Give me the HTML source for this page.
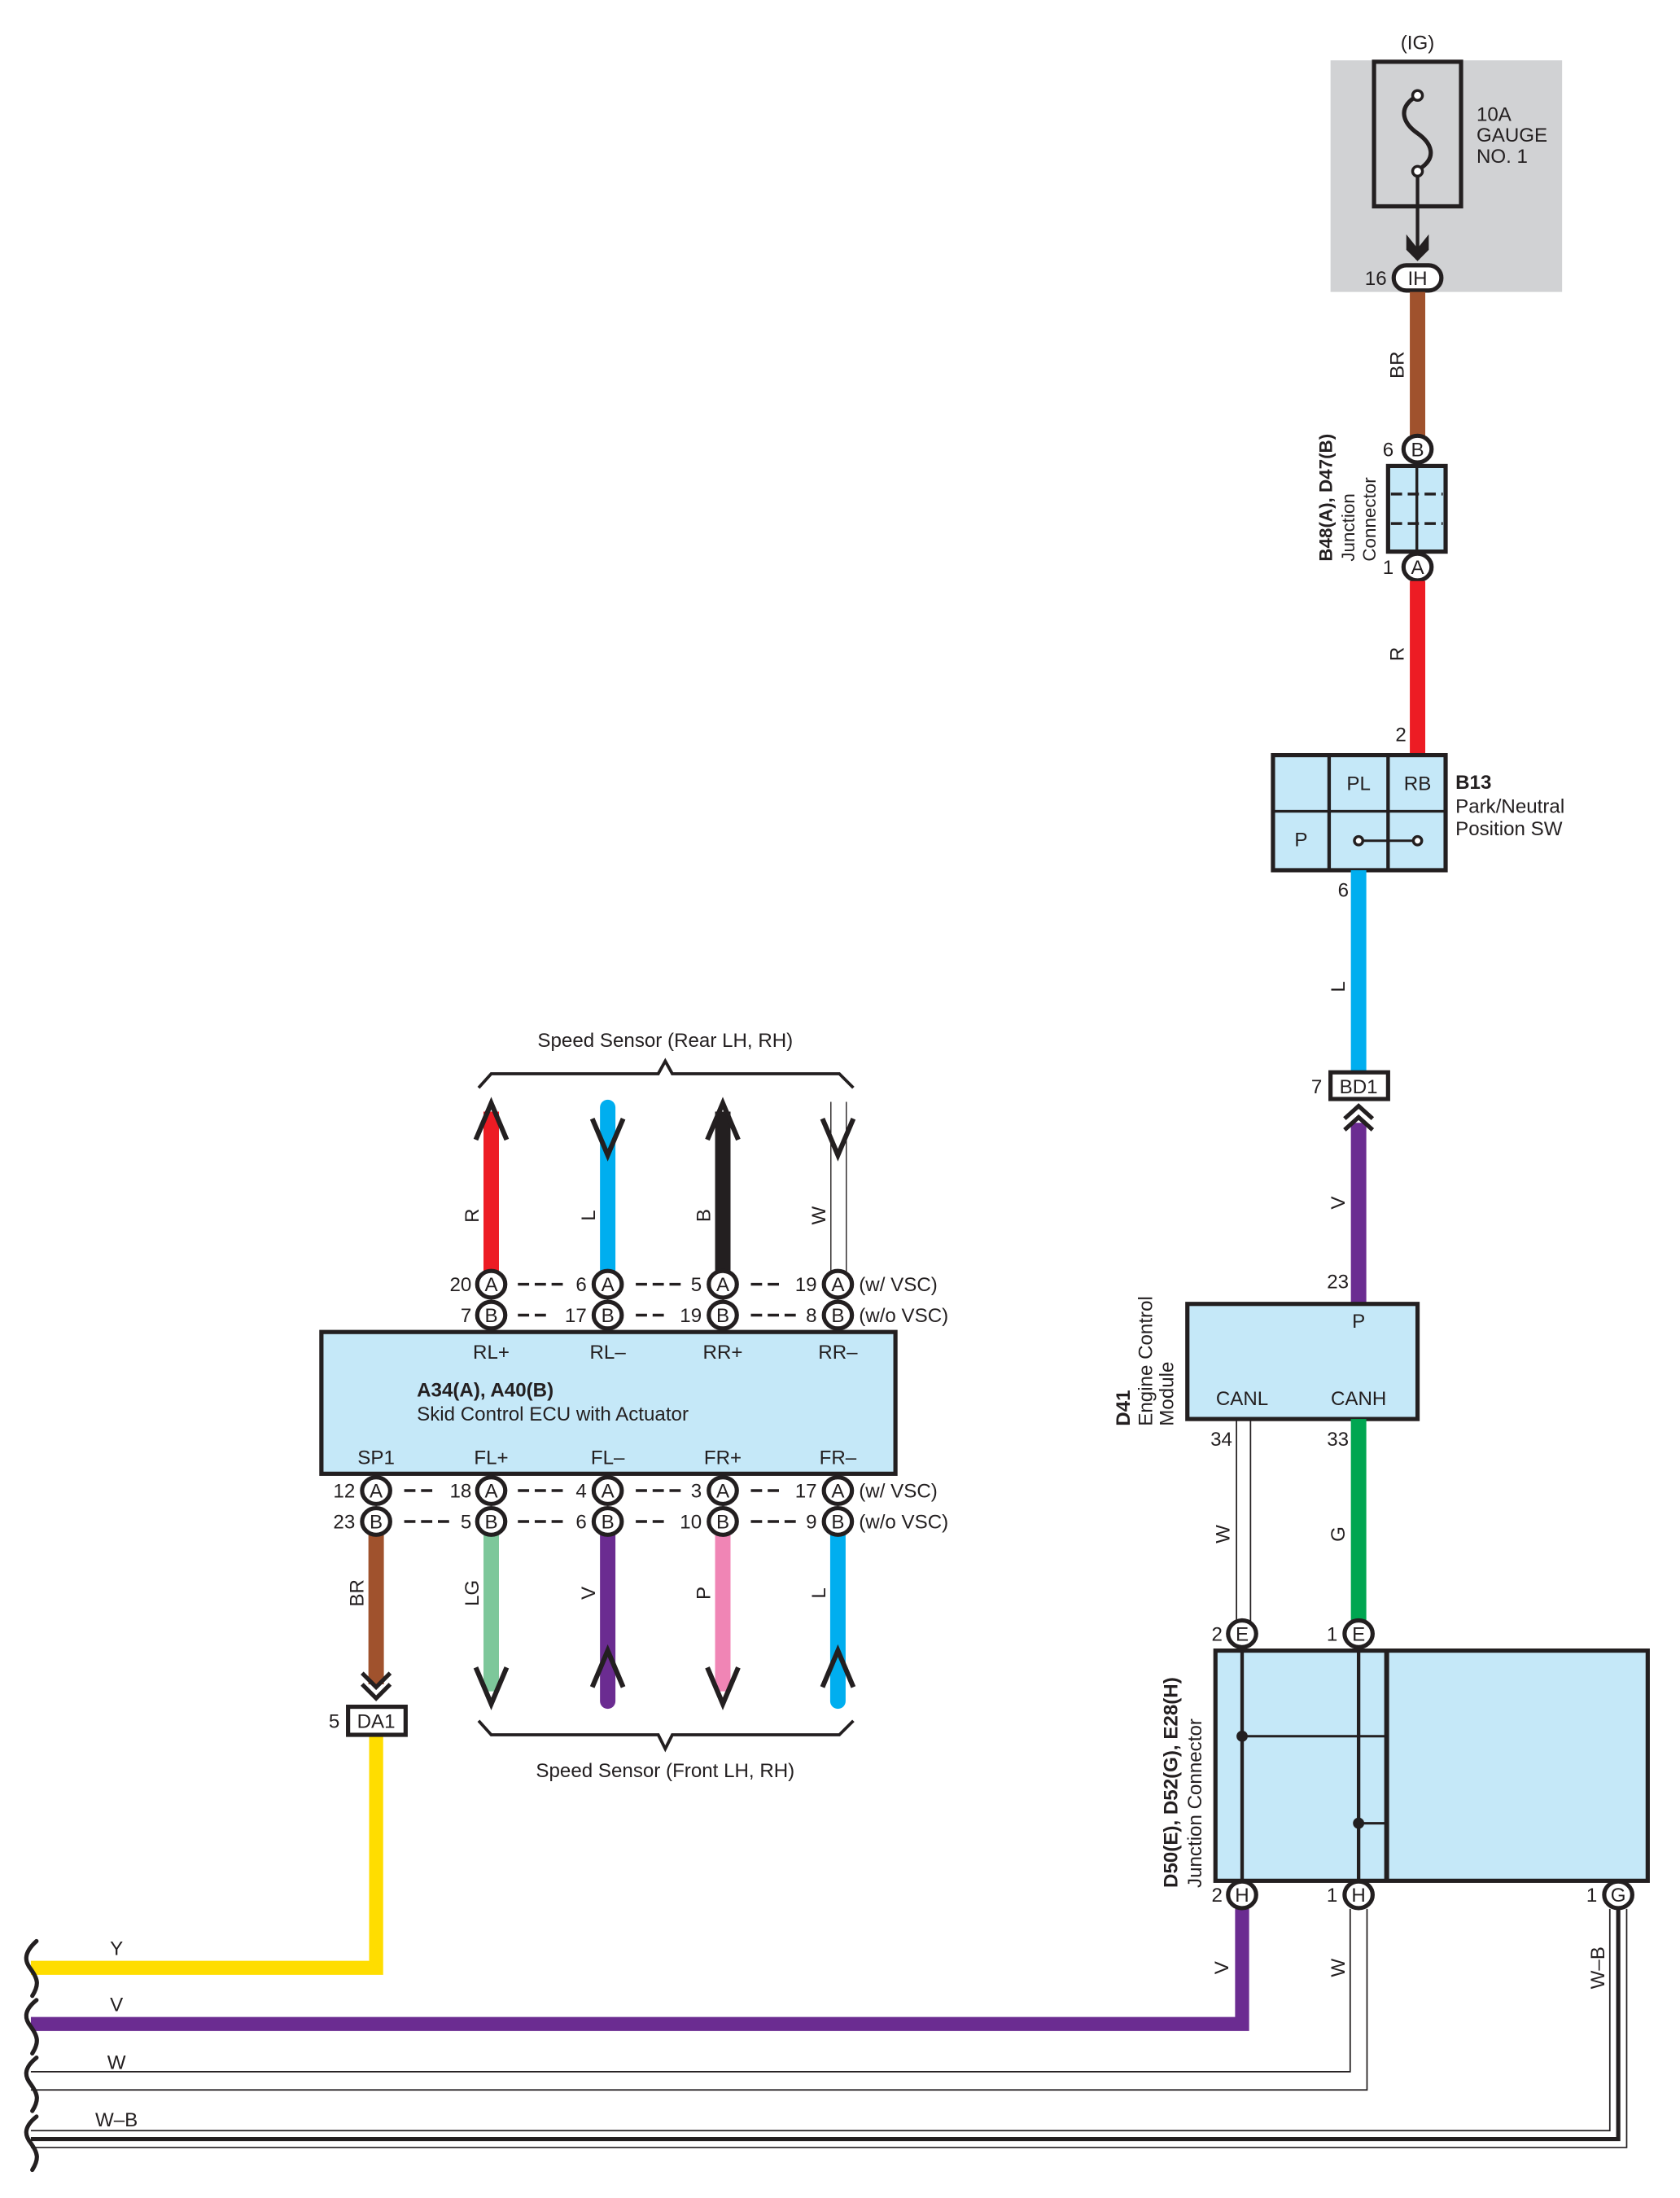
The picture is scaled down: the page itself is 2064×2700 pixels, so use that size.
<!DOCTYPE html>
<html><head><meta charset="utf-8"><style>
html,body{margin:0;padding:0;background:#fff}
svg{display:block}
text{font-family:"Liberation Sans",sans-serif;font-size:14px;fill:#231f20}
.c{text-anchor:middle}
.r{text-anchor:end}
.b{font-weight:bold}
</style></head><body>
<svg width="2064" height="2700" viewBox="0 0 1197 1566" preserveAspectRatio="none" xmlns="http://www.w3.org/2000/svg">
<defs>
<g id="ck"><ellipse cx="0" cy="0" rx="10" ry="9.5" fill="#fff" stroke="#231f20" stroke-width="3"/></g>
</defs>

<rect x="948" y="43" width="165" height="165" fill="#d1d2d4"/>
<text x="1010" y="35" class="c">(IG)</text>
<rect x="979" y="44" width="62" height="103" fill="none" stroke="#231f20" stroke-width="3"/>
<circle cx="1010" cy="68" r="3.5" fill="#fff" stroke="#231f20" stroke-width="2"/>
<path d="M1007,70 C996,78 1000,88 1010,95 C1020,102 1024,112 1012,120" fill="none" stroke="#231f20" stroke-width="3"/>
<circle cx="1010" cy="122" r="3.5" fill="#fff" stroke="#231f20" stroke-width="2"/>
<line x1="1010" y1="125" x2="1010" y2="185" stroke="#231f20" stroke-width="2.5"/>
<path d="M1002,167 L1010,177 L1018,167 L1018,178 L1010,186 L1002,178Z" fill="#231f20"/>
<text x="1052" y="86">10A</text>
<text x="1052" y="101">GAUGE</text>
<text x="1052" y="116">NO. 1</text>
<rect x="993" y="189" width="34" height="18" rx="9" fill="#fff" stroke="#231f20" stroke-width="3"/>
<text x="1010" y="203" class="c">IH</text>
<text x="988" y="203" class="r">16</text>

<line x1="1010" y1="208" x2="1010" y2="311" stroke="#a0522d" stroke-width="11"/>
<text transform="translate(1000,260) rotate(-90)" class="c">BR</text>
<use href="#ck" x="1010" y="320"/><text x="1010" y="325" class="c">B</text>
<text x="993" y="325" class="r">6</text>
<rect x="989" y="332" width="41" height="61" fill="#c5e8f8" stroke="#231f20" stroke-width="3"/>
<line x1="1009.5" y1="332" x2="1009.5" y2="393" stroke="#231f20" stroke-width="2"/>
<line x1="991" y1="352" x2="1028" y2="352" stroke="#231f20" stroke-width="2" stroke-dasharray="8,4"/>
<line x1="991" y1="373" x2="1028" y2="373" stroke="#231f20" stroke-width="2" stroke-dasharray="8,4"/>
<use href="#ck" x="1010" y="404"/><text x="1010" y="409" class="c">A</text>
<text x="993" y="409" class="r">1</text>
<text transform="translate(949,400) rotate(-90)" class="b" style="font-size:13px">B48(A), D47(B)</text>
<text transform="translate(965,400) rotate(-90)" style="font-size:13px">Junction</text>
<text transform="translate(980,400) rotate(-90)" style="font-size:13px">Connector</text>

<line x1="1010" y1="414" x2="1010" y2="537" stroke="#ed1c24" stroke-width="11"/>
<text transform="translate(1000,466) rotate(-90)" class="c">R</text>
<text x="1002" y="528" class="r">2</text>

<rect x="907" y="538" width="123" height="82" fill="#c5e8f8" stroke="#231f20" stroke-width="3"/>
<line x1="947" y1="538" x2="947" y2="620" stroke="#231f20" stroke-width="2.5"/>
<line x1="989" y1="538" x2="989" y2="620" stroke="#231f20" stroke-width="2.5"/>
<line x1="907" y1="578" x2="1030" y2="578" stroke="#231f20" stroke-width="2"/>
<text x="968" y="563" class="c">PL</text>
<text x="1010" y="563" class="c">RB</text>
<text x="927" y="603" class="c">P</text>
<line x1="968" y1="599" x2="1010" y2="599" stroke="#231f20" stroke-width="1.8"/>
<circle cx="968" cy="599" r="3" fill="#fff" stroke="#231f20" stroke-width="2"/>
<circle cx="1010" cy="599" r="3" fill="#fff" stroke="#231f20" stroke-width="2"/>
<text x="1037" y="562" class="b">B13</text>
<text x="1037" y="579">Park/Neutral</text>
<text x="1037" y="595">Position SW</text>

<line x1="968" y1="620" x2="968" y2="764" stroke="#00aeef" stroke-width="11"/>
<text x="961" y="639" class="r">6</text>
<text transform="translate(958,703) rotate(-90)" class="c">L</text>
<rect x="948" y="764" width="41" height="19" fill="#fff" stroke="#231f20" stroke-width="3"/>
<text x="968" y="779" class="c">BD1</text>
<text x="942" y="779" class="r">7</text>
<line x1="968" y1="800" x2="968" y2="928" stroke="#6b2c91" stroke-width="11"/>
<path d="M958,797 L968,788 L978,797 M958,805 L968,796 L978,805" fill="none" stroke="#231f20" stroke-width="3"/>
<text transform="translate(958,857) rotate(-90)" class="c">V</text>
<text x="961" y="918" class="r">23</text>

<rect x="846" y="929" width="164" height="82" fill="#c5e8f8" stroke="#231f20" stroke-width="3"/>
<text x="968" y="946" class="c">P</text>
<text x="885" y="1001" class="c">CANL</text>
<text x="968" y="1001" class="c">CANH</text>
<text transform="translate(805,1016) rotate(-90)" class="b">D41</text>
<text transform="translate(821,1016) rotate(-90)">Engine Control</text>
<text transform="translate(836,1016) rotate(-90)">Module</text>
<line x1="881" y1="1011" x2="881" y2="1156" stroke="#231f20" stroke-width="1"/>
<line x1="891" y1="1011" x2="891" y2="1156" stroke="#231f20" stroke-width="1"/>
<text x="878" y="1030" class="r">34</text>
<text transform="translate(876,1093) rotate(-90)" class="c">W</text>
<line x1="968" y1="1011" x2="968" y2="1156" stroke="#00a651" stroke-width="11"/>
<text x="961" y="1030" class="r">33</text>
<text transform="translate(958,1093) rotate(-90)" class="c">G</text>

<rect x="866" y="1176" width="308" height="164" fill="#c5e8f8" stroke="#231f20" stroke-width="3"/>
<line x1="988" y1="1176" x2="988" y2="1340" stroke="#231f20" stroke-width="3.5"/>
<line x1="885" y1="1176" x2="885" y2="1340" stroke="#231f20" stroke-width="2.5"/>
<line x1="968" y1="1176" x2="968" y2="1340" stroke="#231f20" stroke-width="2.5"/>
<line x1="885" y1="1237" x2="988" y2="1237" stroke="#231f20" stroke-width="1.8"/>
<line x1="968" y1="1299" x2="988" y2="1299" stroke="#231f20" stroke-width="1.8"/>
<circle cx="885" cy="1237" r="4" fill="#231f20"/>
<circle cx="968" cy="1299" r="4" fill="#231f20"/>
<use href="#ck" x="885" y="1164"/><text x="885" y="1169" class="c">E</text>
<use href="#ck" x="968" y="1164"/><text x="968" y="1169" class="c">E</text>
<text x="871" y="1169" class="r">2</text>
<text x="953" y="1169" class="r">1</text>
<text transform="translate(839,1345) rotate(-90)" class="b">D50(E), D52(G), E28(H)</text>
<text transform="translate(856,1345) rotate(-90)">Junction Connector</text>

<path d="M885,1360 L885,1442 L22,1442" fill="none" stroke="#6b2c91" stroke-width="10"/>
<path d="M962,1360 L962,1476 L22,1476" fill="none" stroke="#231f20" stroke-width="1"/>
<path d="M974,1360 L974,1489 L22,1489" fill="none" stroke="#231f20" stroke-width="1"/>
<path d="M1147,1360 L1147,1518 L22,1518" fill="none" stroke="#231f20" stroke-width="1"/>
<path d="M1153,1360 L1153,1524 L22,1524" fill="none" stroke="#231f20" stroke-width="3"/>
<path d="M1159,1360 L1159,1530 L22,1530" fill="none" stroke="#231f20" stroke-width="1"/>
<use href="#ck" x="885" y="1350"/><text x="885" y="1355" class="c">H</text>
<use href="#ck" x="968" y="1350"/><text x="968" y="1355" class="c">H</text>
<use href="#ck" x="1153" y="1350"/><text x="1153" y="1355" class="c">G</text>
<text x="871" y="1355" class="r">2</text>
<text x="953" y="1355" class="r">1</text>
<text x="1138" y="1355" class="r">1</text>
<text transform="translate(875,1402) rotate(-90)" class="c">V</text>
<text transform="translate(958,1402) rotate(-90)" class="c">W</text>
<text transform="translate(1143,1402) rotate(-90)" class="c">W–B</text>

<path d="M268,1236 L268,1402 L22,1402" fill="none" stroke="#ffdd00" stroke-width="10"/>
<text x="83" y="1393" class="c">Y</text>
<text x="83" y="1433" class="c">V</text>
<text x="83" y="1474" class="c">W</text>
<text x="83" y="1515" class="c">W–B</text>
<g fill="none" stroke="#231f20" stroke-width="3" stroke-linecap="round">
<path d="M26,1383 C16,1392 18,1398 22,1403 C27,1410 28,1414 23,1422"/>
<path d="M26,1425 C16,1433 18,1439 22,1444 C27,1451 28,1455 23,1463"/>
<path d="M26,1466 C16,1474 18,1480 22,1485 C27,1492 28,1496 23,1504"/>
<path d="M26,1508 C16,1516 18,1522 22,1527 C27,1534 28,1538 23,1546"/>
</g>

<text x="474" y="746" class="c">Speed Sensor (Rear LH,  RH)</text>
<path d="M341,775 L350,765 L469,765 L474,756 L479,765 L598,765 L608,775" fill="none" stroke="#231f20" stroke-width="2.2"/>
<line x1="350" y1="792" x2="350" y2="906" stroke="#ed1c24" stroke-width="11"/>
<path d="M339,812 L350,786 L361,812" fill="none" stroke="#231f20" stroke-width="3.5"/>
<line x1="433" y1="789" x2="433" y2="906" stroke="#00aeef" stroke-width="11" stroke-linecap="round"/>
<path d="M422,797 L433,823 L444,797" fill="none" stroke="#231f20" stroke-width="3.5"/>
<line x1="515" y1="792" x2="515" y2="906" stroke="#231f20" stroke-width="11"/>
<path d="M504,812 L515,786 L526,812" fill="none" stroke="#231f20" stroke-width="3.5"/>
<line x1="592" y1="785" x2="592" y2="906" stroke="#231f20" stroke-width="0.8"/>
<line x1="603" y1="785" x2="603" y2="906" stroke="#231f20" stroke-width="0.8"/>
<path d="M586,797 L597,823 L608,797" fill="none" stroke="#231f20" stroke-width="3.5"/>
<text transform="translate(341,866) rotate(-90)" class="c">R</text>
<text transform="translate(424,866) rotate(-90)" class="c">L</text>
<text transform="translate(506,866) rotate(-90)" class="c">B</text>
<text transform="translate(588,866) rotate(-90)" class="c">W</text>

<g>
<use href="#ck" x="350" y="915"/><text x="350" y="920" class="c">A</text>
<use href="#ck" x="433" y="915"/><text x="433" y="920" class="c">A</text>
<use href="#ck" x="515" y="915"/><text x="515" y="920" class="c">A</text>
<use href="#ck" x="597" y="915"/><text x="597" y="920" class="c">A</text>
<use href="#ck" x="350" y="937"/><text x="350" y="942" class="c">B</text>
<use href="#ck" x="433" y="937"/><text x="433" y="942" class="c">B</text>
<use href="#ck" x="515" y="937"/><text x="515" y="942" class="c">B</text>
<use href="#ck" x="597" y="937"/><text x="597" y="942" class="c">B</text>
</g>
<text x="336" y="920" class="r">20</text><text x="336" y="942" class="r">7</text>
<text x="418" y="920" class="r">6</text><text x="418" y="942" class="r">17</text>
<text x="500" y="920" class="r">5</text><text x="500" y="942" class="r">19</text>
<text x="582" y="920" class="r">19</text><text x="582" y="942" class="r">8</text>
<g stroke="#231f20" stroke-width="2">
<line x1="369" y1="915" x2="402" y2="915" stroke-dasharray="8,4"/>
<line x1="369" y1="937" x2="390" y2="937" stroke-dasharray="8,4"/>
<line x1="453" y1="915" x2="486" y2="915" stroke-dasharray="8,4"/>
<line x1="453" y1="937" x2="474" y2="937" stroke-dasharray="8,4"/>
<line x1="535" y1="915" x2="556" y2="915" stroke-dasharray="8,4"/>
<line x1="535" y1="937" x2="568" y2="937" stroke-dasharray="8,4"/>
</g>
<text x="612" y="920">(w/ VSC)</text>
<text x="612" y="942">(w/o VSC)</text>

<rect x="229" y="949" width="409" height="101" fill="#c5e8f8" stroke="#231f20" stroke-width="3"/>
<text x="350" y="968" class="c">RL+</text>
<text x="433" y="968" class="c">RL–</text>
<text x="515" y="968" class="c">RR+</text>
<text x="597" y="968" class="c">RR–</text>
<text x="297" y="995" class="b">A34(A), A40(B)</text>
<text x="297" y="1012">Skid Control ECU with Actuator</text>
<text x="268" y="1043" class="c">SP1</text>
<text x="350" y="1043" class="c">FL+</text>
<text x="433" y="1043" class="c">FL–</text>
<text x="515" y="1043" class="c">FR+</text>
<text x="597" y="1043" class="c">FR–</text>

<line x1="268" y1="1093" x2="268" y2="1200" stroke="#a0522d" stroke-width="11"/>
<path d="M258,1192 L268,1202 L278,1192 M258,1200 L268,1210 L278,1200" fill="none" stroke="#231f20" stroke-width="3"/>
<rect x="248" y="1216" width="41" height="20" fill="#fff" stroke="#231f20" stroke-width="3"/>
<text x="268" y="1231" class="c">DA1</text>
<text x="242" y="1231" class="r">5</text>
<line x1="350" y1="1093" x2="350" y2="1205" stroke="#7dc79a" stroke-width="11"/>
<path d="M339,1188 L350,1214 L361,1188" fill="none" stroke="#231f20" stroke-width="3.5"/>
<line x1="433" y1="1093" x2="433" y2="1212" stroke="#6b2c91" stroke-width="11" stroke-linecap="round"/>
<path d="M422,1202 L433,1176 L444,1202" fill="none" stroke="#231f20" stroke-width="3.5"/>
<line x1="515" y1="1093" x2="515" y2="1205" stroke="#f085b5" stroke-width="11"/>
<path d="M504,1188 L515,1214 L526,1188" fill="none" stroke="#231f20" stroke-width="3.5"/>
<line x1="597" y1="1093" x2="597" y2="1212" stroke="#00aeef" stroke-width="11" stroke-linecap="round"/>
<path d="M586,1202 L597,1176 L608,1202" fill="none" stroke="#231f20" stroke-width="3.5"/>
<text transform="translate(259,1135) rotate(-90)" class="c">BR</text>
<text transform="translate(341,1135) rotate(-90)" class="c">LG</text>
<text transform="translate(424,1135) rotate(-90)" class="c">V</text>
<text transform="translate(506,1135) rotate(-90)" class="c">P</text>
<text transform="translate(588,1135) rotate(-90)" class="c">L</text>

<g>
<use href="#ck" x="268" y="1062"/><text x="268" y="1067" class="c">A</text>
<use href="#ck" x="350" y="1062"/><text x="350" y="1067" class="c">A</text>
<use href="#ck" x="433" y="1062"/><text x="433" y="1067" class="c">A</text>
<use href="#ck" x="515" y="1062"/><text x="515" y="1067" class="c">A</text>
<use href="#ck" x="597" y="1062"/><text x="597" y="1067" class="c">A</text>
<use href="#ck" x="268" y="1084"/><text x="268" y="1089" class="c">B</text>
<use href="#ck" x="350" y="1084"/><text x="350" y="1089" class="c">B</text>
<use href="#ck" x="433" y="1084"/><text x="433" y="1089" class="c">B</text>
<use href="#ck" x="515" y="1084"/><text x="515" y="1089" class="c">B</text>
<use href="#ck" x="597" y="1084"/><text x="597" y="1089" class="c">B</text>
</g>
<text x="253" y="1067" class="r">12</text><text x="253" y="1089" class="r">23</text>
<text x="336" y="1067" class="r">18</text><text x="336" y="1089" class="r">5</text>
<text x="418" y="1067" class="r">4</text><text x="418" y="1089" class="r">6</text>
<text x="500" y="1067" class="r">3</text><text x="500" y="1089" class="r">10</text>
<text x="582" y="1067" class="r">17</text><text x="582" y="1089" class="r">9</text>
<g stroke="#231f20" stroke-width="2">
<line x1="288" y1="1062" x2="309" y2="1062" stroke-dasharray="8,4"/>
<line x1="288" y1="1084" x2="321" y2="1084" stroke-dasharray="8,4"/>
<line x1="369" y1="1062" x2="402" y2="1062" stroke-dasharray="8,4"/>
<line x1="369" y1="1084" x2="402" y2="1084" stroke-dasharray="8,4"/>
<line x1="453" y1="1062" x2="486" y2="1062" stroke-dasharray="8,4"/>
<line x1="453" y1="1084" x2="474" y2="1084" stroke-dasharray="8,4"/>
<line x1="535" y1="1062" x2="556" y2="1062" stroke-dasharray="8,4"/>
<line x1="535" y1="1084" x2="568" y2="1084" stroke-dasharray="8,4"/>
</g>
<text x="612" y="1067">(w/ VSC)</text>
<text x="612" y="1089">(w/o VSC)</text>

<path d="M341,1226 L350,1236 L469,1236 L474,1246 L479,1236 L598,1236 L608,1226" fill="none" stroke="#231f20" stroke-width="2.2"/>
<text x="474" y="1266" class="c">Speed Sensor (Front LH,  RH)</text>
</svg>
</body></html>
